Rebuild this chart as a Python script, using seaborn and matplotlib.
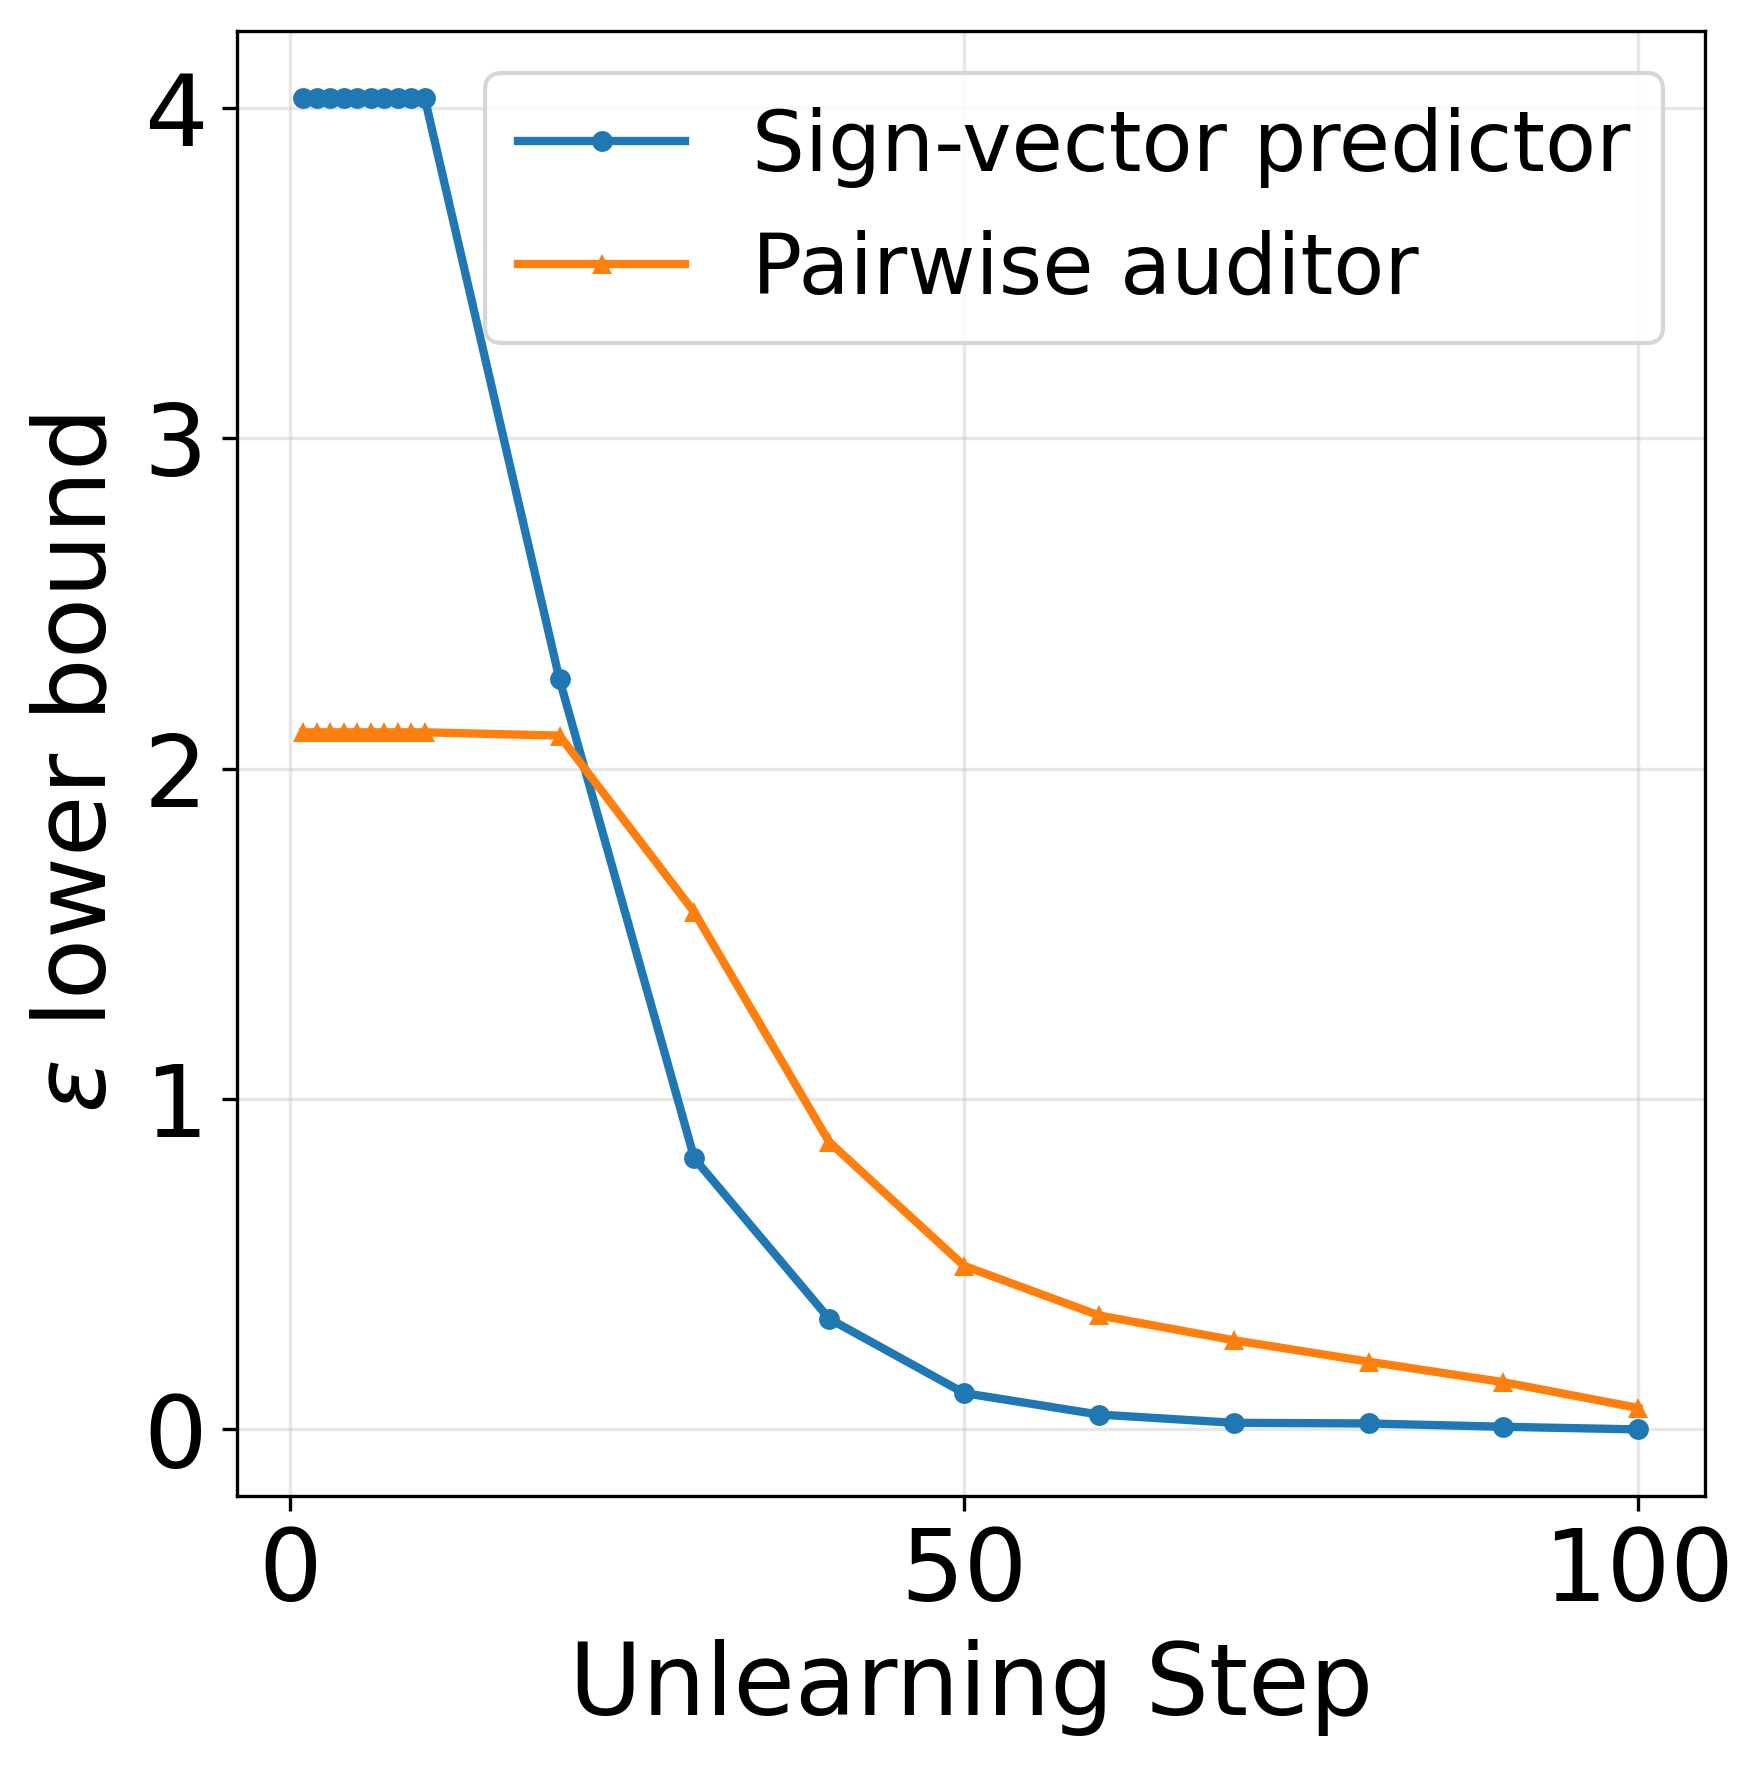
import numpy as np
import pandas as pd
import matplotlib
matplotlib.use("Agg")
import matplotlib.pyplot as plt
import seaborn as sns

# unlearning steps: 1..10 then every 10 up to 100
steps = [1, 2, 3, 4, 5, 6, 7, 8, 9, 10, 20, 30, 40, 50, 60, 70, 80, 90, 100]
sign_vector = [4.03, 4.03, 4.03, 4.03, 4.03, 4.03, 4.03, 4.03, 4.03, 4.03,
               2.27, 0.82, 0.335, 0.11, 0.045, 0.02, 0.018, 0.008, 0.0]
pairwise = [2.11, 2.11, 2.11, 2.11, 2.11, 2.11, 2.11, 2.11, 2.11, 2.11,
            2.10, 1.565, 0.87, 0.495, 0.345, 0.27, 0.205, 0.143, 0.065]
labels = ["Sign-vector predictor", "Pairwise auditor"]

df = pd.DataFrame({
    "step": steps * 2,
    "eps": sign_vector + pairwise,
    "method": [labels[0]] * len(steps) + [labels[1]] * len(steps),
})

fig = plt.figure(figsize=(5.88, 5.887), dpi=300)
ax = fig.add_axes([236.6 / 1764, 1 - 1496 / 1766, (1705 - 236.6) / 1764, (1496 - 31.5) / 1766])

sns.lineplot(data=df, x="step", y="eps", hue="method", style="method",
             markers=["o", "^"], dashes=False, palette=["#1f77b4", "#ff7f0e"],
             linewidth=2, markersize=5, markeredgewidth=0, ax=ax)

ax.set_xticks([0, 50, 100])
ax.set_yticks([0, 1, 2, 3, 4])
ax.grid(True, alpha=0.3)
ax.tick_params(labelsize=24)
ax.set_xlabel("Unlearning Step", fontsize=24)
ax.set_ylabel(r"$\epsilon$ lower bound", fontsize=24)

ax.legend(fontsize=20, loc="upper right")

fig.savefig("out.png", dpi=300)
